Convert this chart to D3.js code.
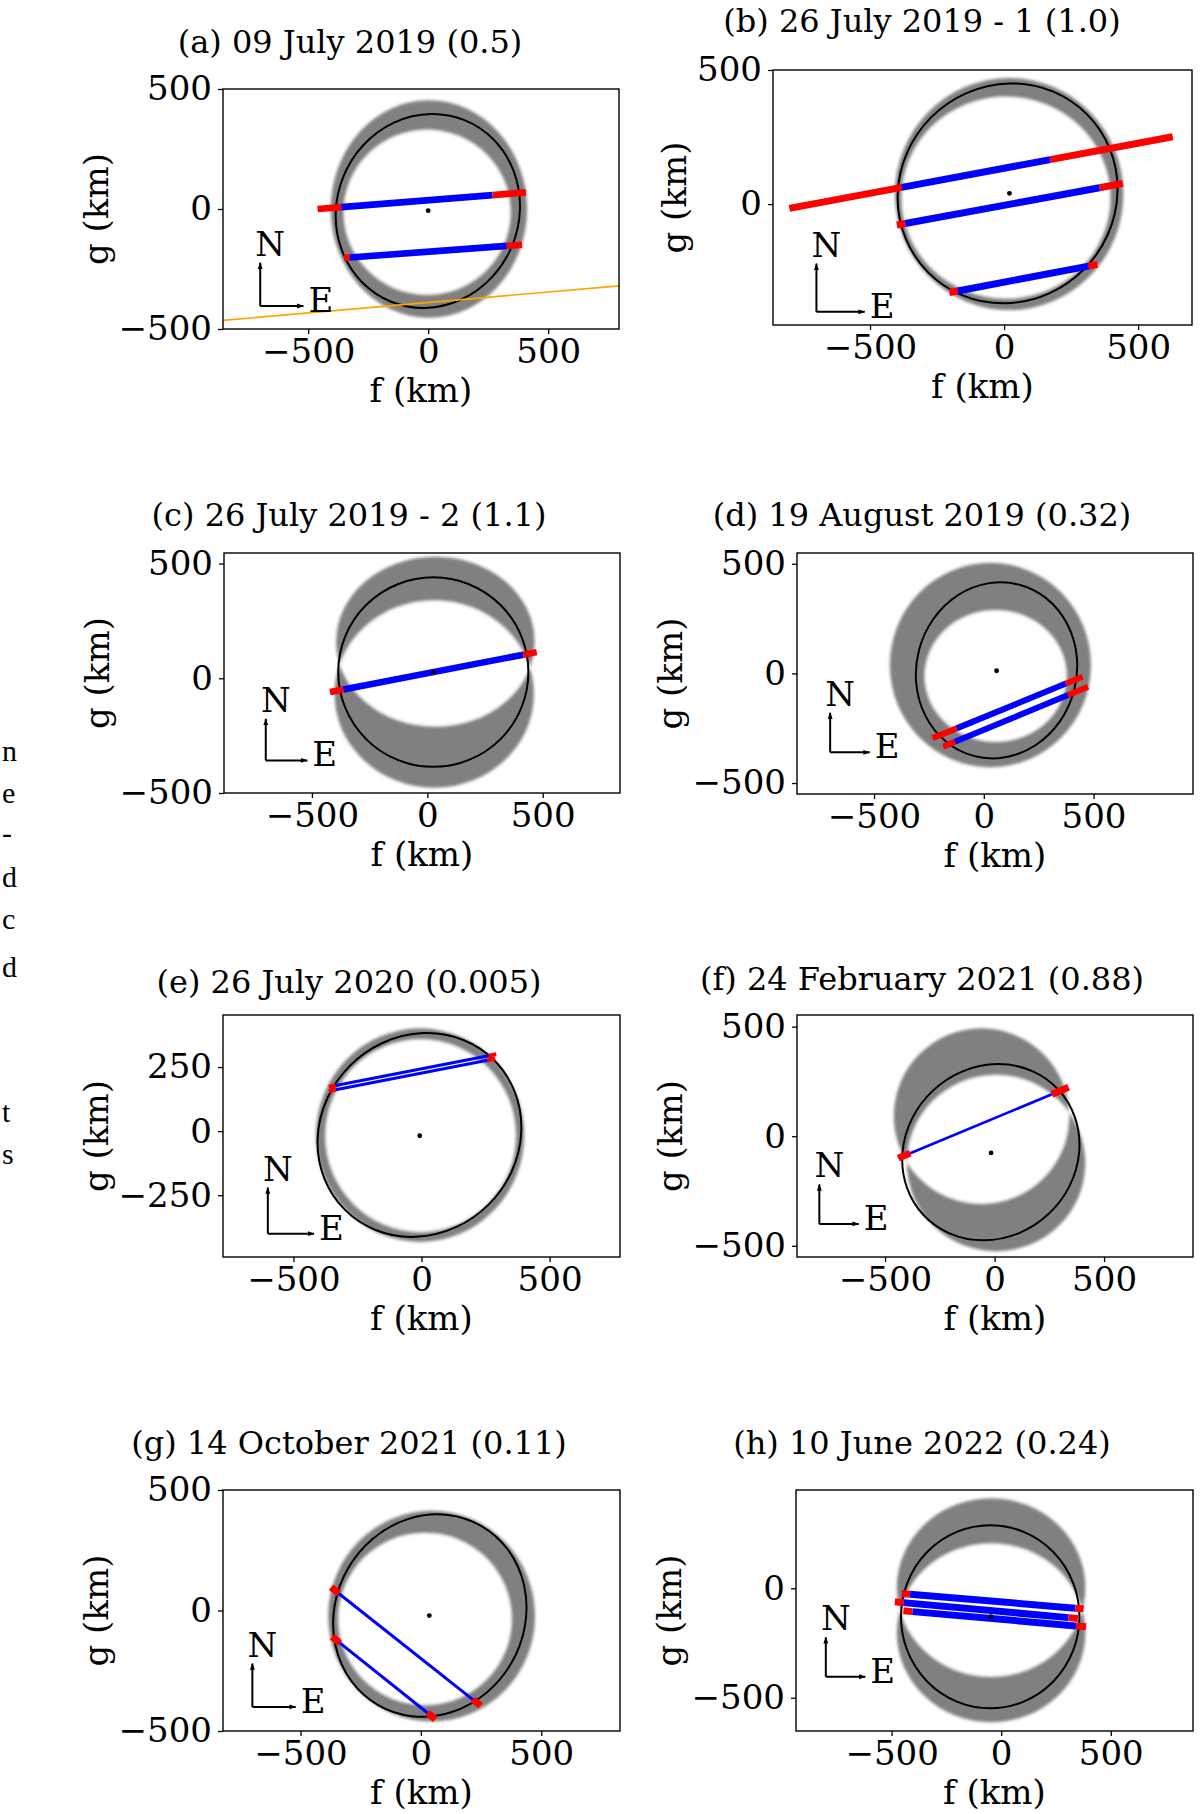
<!DOCTYPE html>
<html>
<head>
<meta charset="utf-8">
<script src="https://cdn.jsdelivr.net/npm/d3@7"></script>
<style>
  body { margin: 0; background: #fff; }
  svg text { font-family: "DejaVu Serif", serif; fill: #000; }
  svg text.page { font-family: "Liberation Serif", "Times New Roman", serif; }
</style>
</head>
<body>
<div id="fig"></div>
<script>
// ---- data (km in the sky plane, f east / g north) ----
const titles = [
  "(a) 09 July 2019 (0.5)",
  "(b) 26 July 2019 - 1 (1.0)",
  "(c) 26 July 2019 - 2 (1.1)",
  "(d) 19 August 2019 (0.32)",
  "(e) 26 July 2020 (0.005)",
  "(f) 24 February 2021 (0.88)",
  "(g) 14 October 2021 (0.11)",
  "(h) 10 June 2022 (0.24)"
];

const xDomains = [[-855, 795], [-862, 701], [-881, 835], [-851, 953],
                  [-775, 775], [-902, 906], [-822, 827], [-936, 875]];
const yDomains = [[-500, 500], [-451, 500], [-500, 546], [-550, 549],
                  [-491, 453], [-551, 553], [-500, 500], [-652, 449]];
const xTicks = [-500, 0, 500];
const yTicks = [[-500, 0, 500], [0, 500], [-500, 0, 500], [-500, 0, 500],
                [-250, 0, 250], [-500, 0, 500], [-500, 0, 500], [-500, 0]];

// best fitting limb: [f, g, semi f, semi g, tilt deg]
const limbs = [
  [-1.5, -8, 380, 408, 22],
  [13, 40, 402, 418, 45],
  [26, 27, 412, 413, 0],
  [58, 14, 365, 404, 15],
  [-8, -15, 383, 412, 45],
  [-17, -73, 386, 420, 47],
  [37, -21, 392, 429, 30],
  [-50, -130, 407, 418, 0]
];
const centres = [[0, -7], [20, 40], [26, 26], [58, 12], [-7, -18], [-16, -76], [35, -21], [-47, -130]];

// 3-sigma region = union of two ellipses minus their overlap: [f, g, semi f, semi g]
const bandA = [
  [3, 0, 409, 453], [19, 37.5, 426, 433], [35, 160, 430, 370], [30, 38, 458, 466],
  [-5.5, -15.5, 406.5, 416.5], [-60, 92, 400, 400], [44.5, -23.5, 429.5, 437.5], [-46, 3.5, 430, 407.5]
];
const bandB = [
  [-4.5, -13.5, 347.5, 343.5], [7, 24, 389, 376], [30, -69, 432, 408], [54, -12, 323, 300],
  [-3.5, -17.5, 371.5, 375.5], [7, -123, 407, 402], [17, -35, 360, 357], [-46, -203.5, 430, 408.5]
];

// chords: [f start, g start, f end, g end, f blue start, f blue end]
const chords = [
  [[-461, 0, 407, 69, -362, 268], [-351, -204, 391, -149, -326, 327]],
  [[-801, -16, 629, 251, -382, 172], [-400, -78, 443, 77, -369, 356], [-204, -330, 348, -225, -173, 315]],
  [[-422, -60, 474, 114, -364, 416]],
  [[-234, -296, 450, -15, -124, 374], [-185, -334, 475, -61, -132, 384]],
  [[-362, 173, 292, 300, -335, 262], [-362, 156, 288, 282, -335, 258]],
  [[-440, -100, 338, 223, -385, 262]],
  [[-373, 96, 248, -395, -341, 216], [-369, -109, 60, -451, -337, 28]],
  [[-454, -24, 376, -94, -416, 338], [-485, -62, 350, -138, -446, 307], [-446, -103, 387, -176, -405, 341]]
];
// negative chord, panel (a) only
const missLine = [[-900, -468], [900, -311]];

const compassAt = [[-700, -404], [-700, -402], [-700, -358], [-700, -360],
                   [-600, -400], [-800, -400], [-700, -400], [-800, -404]];
const compassLen = 180;

// cut-off words of the page text at the left edge
const marginText = ["n", "e", "-", "d", "c", "d", "t", "s"];
const marginY = [761, 803, 843, 887, 929, 977, 1122, 1164];

// ---- layout ----
const W = 1200, H = 1814, FS = 34, FS_TITLE = 32;
const frames = [[223, 89, 619, 329], [773, 70, 1192, 325], [224, 553, 620, 793], [797, 553, 1193, 794],
                [223, 1015, 620, 1257], [797, 1015, 1193, 1257], [223, 1490, 620, 1731], [796, 1490, 1193, 1731]];
const titlePos = [[350, 53], [922, 32], [349, 526], [922, 526], [349, 993], [922, 990], [349, 1454], [922, 1454]];
const chordWidth = [[6.7, 6.7], [7, 7], [6.5, 6.5], [6, 6], [3, 4], [2.7, 7], [3, 7], [7, 7]]; // blue, red

const fmt = d => d < 0 ? "\u2212" + (-d) : String(d);

const svg = d3.select("#fig").append("svg")
    .attr("width", W)
    .attr("height", H);

const defs = svg.append("defs");
defs.append("filter")
    .attr("id", "soft")
    .attr("x", "-10%").attr("y", "-10%").attr("width", "120%").attr("height", "120%")
  .append("feGaussianBlur")
    .attr("stdDeviation", 1.8);
defs.append("marker")
    .attr("id", "head")
    .attr("markerUnits", "userSpaceOnUse")
    .attr("viewBox", "0 0 10 10")
    .attr("refX", 9).attr("refY", 5)
    .attr("markerWidth", 7).attr("markerHeight", 7)
    .attr("orient", "auto")
  .append("path")
    .attr("d", "M0,1.5 L10,5 L0,8.5 Z")
    .attr("fill", "#000");

marginText.forEach((t, k) => {
  svg.append("text")
    .attr("class", "page")
    .attr("x", 2)
    .attr("y", marginY[k])
    .attr("font-size", 30)
    .text(t);
});

titles.forEach((title, i) => {
  const [x0, y0, x1, y1] = frames[i];
  const x = d3.scaleLinear().domain(xDomains[i]).range([x0, x1]);
  const y = d3.scaleLinear().domain(yDomains[i]).range([y1, y0]);
  const rx = (f, a) => x(f + a) - x(f);
  const ry = (g, b) => y(g) - y(g + b);

  defs.append("clipPath")
      .attr("id", "frame" + i)
    .append("rect")
      .attr("x", x0).attr("y", y0)
      .attr("width", x1 - x0).attr("height", y1 - y0);

  const plot = svg.append("g").attr("clip-path", `url(#frame${i})`);

  // uncertainty band
  const A = bandA[i], B = bandB[i];
  defs.append("clipPath")
      .attr("id", "overlap" + i)
    .append("ellipse")
      .attr("cx", x(A[0])).attr("cy", y(A[1]))
      .attr("rx", rx(A[0], A[2])).attr("ry", ry(A[1], A[3]));
  const band = plot.append("g").attr("filter", "url(#soft)");
  [A, B].forEach(e => {
    band.append("ellipse")
      .attr("cx", x(e[0])).attr("cy", y(e[1]))
      .attr("rx", rx(e[0], e[2])).attr("ry", ry(e[1], e[3]))
      .attr("fill", "#808080");
  });
  band.append("ellipse")
    .attr("clip-path", `url(#overlap${i})`)
    .attr("cx", x(B[0])).attr("cy", y(B[1]))
    .attr("rx", rx(B[0], B[2])).attr("ry", ry(B[1], B[3]))
    .attr("fill", "#fff");

  // limb
  const L = limbs[i];
  plot.append("ellipse")
    .attr("cx", x(L[0])).attr("cy", y(L[1]))
    .attr("rx", rx(L[0], L[2])).attr("ry", ry(L[1], L[3]))
    .attr("transform", `rotate(${L[4]},${x(L[0])},${y(L[1])})`)
    .attr("fill", "none")
    .attr("stroke", "#000")
    .attr("stroke-width", 2);

  if (i === 0) {
    plot.append("line")
      .attr("x1", x(missLine[0][0])).attr("y1", y(missLine[0][1]))
      .attr("x2", x(missLine[1][0])).attr("y2", y(missLine[1][1]))
      .attr("stroke", "#ffa500")
      .attr("stroke-width", 1.6);
  }

  // chords, red timing error at both ends
  chords[i].forEach(c => {
    const [f0, g0, f3, g3, f1, f2] = c;
    const gAt = f => g0 + (g3 - g0) * (f - f0) / (f3 - f0);
    plot.append("line")
      .attr("x1", x(f1)).attr("y1", y(gAt(f1)))
      .attr("x2", x(f2)).attr("y2", y(gAt(f2)))
      .attr("stroke", "#0000ff")
      .attr("stroke-width", chordWidth[i][0]);
    [[f0, f1], [f2, f3]].forEach(([fa, fb]) => {
      plot.append("line")
        .attr("x1", x(fa)).attr("y1", y(gAt(fa)))
        .attr("x2", x(fb)).attr("y2", y(gAt(fb)))
        .attr("stroke", "#ff0000")
        .attr("stroke-width", chordWidth[i][1]);
    });
  });

  plot.append("circle")
    .attr("cx", x(centres[i][0])).attr("cy", y(centres[i][1]))
    .attr("r", 2.4)
    .attr("fill", "#000");

  // N / E compass
  const ox = x(compassAt[i][0]), oy = y(compassAt[i][1]);
  const len = rx(compassAt[i][0], compassLen);
  svg.append("line")
    .attr("x1", ox).attr("y1", oy).attr("x2", ox).attr("y2", oy - len)
    .attr("stroke", "#000").attr("stroke-width", 2)
    .attr("marker-end", "url(#head)");
  svg.append("line")
    .attr("x1", ox).attr("y1", oy).attr("x2", ox + len).attr("y2", oy)
    .attr("stroke", "#000").attr("stroke-width", 2)
    .attr("marker-end", "url(#head)");
  svg.append("text")
    .attr("x", ox + 10).attr("y", oy - len - 7)
    .attr("text-anchor", "middle")
    .attr("font-size", FS)
    .text("N");
  svg.append("text")
    .attr("x", ox + len + 5).attr("y", oy + 6)
    .attr("font-size", FS)
    .text("E");

  // axes
  const gx = svg.append("g")
    .attr("transform", `translate(0,${y1})`)
    .call(d3.axisBottom(x).tickValues(xTicks).tickSize(5).tickPadding(5).tickFormat(fmt));
  const gy = svg.append("g")
    .attr("transform", `translate(${x0},0)`)
    .call(d3.axisLeft(y).tickValues(yTicks[i]).tickSize(5).tickPadding(6).tickFormat(fmt));
  [gx, gy].forEach(ax => {
    ax.attr("font-size", FS).attr("font-family", null);
    ax.select(".domain").remove();
    ax.selectAll(".tick line").attr("stroke-width", 1.3);
  });

  svg.append("rect")
    .attr("x", x0).attr("y", y0)
    .attr("width", x1 - x0).attr("height", y1 - y0)
    .attr("fill", "none")
    .attr("stroke", "#000")
    .attr("stroke-width", 1.4);

  svg.append("text")
    .attr("x", titlePos[i][0]).attr("y", titlePos[i][1])
    .attr("text-anchor", "middle")
    .attr("font-size", FS_TITLE)
    .text(title);

  svg.append("text")
    .attr("x", (x0 + x1) / 2).attr("y", y1 + 73)
    .attr("text-anchor", "middle")
    .attr("font-size", FS)
    .text("f (km)");

  const tickLeft = x0 + gy.node().getBBox().x;
  svg.append("text")
    .attr("transform", `translate(${tickLeft - 11},${(y0 + y1) / 2}) rotate(-90)`)
    .attr("text-anchor", "middle")
    .attr("font-size", FS)
    .text("g (km)");
});
</script>
</body>
</html>
